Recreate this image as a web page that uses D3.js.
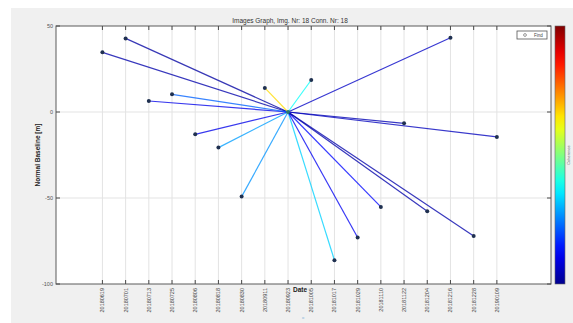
<!DOCTYPE html>
<html><head><meta charset="utf-8">
<script src="https://cdn.jsdelivr.net/npm/d3@7"></script>
<style>html,body{margin:0;padding:0;background:#fff;}svg{display:block;font-family:"Liberation Sans",Arial,sans-serif;}</style>
</head><body>
<svg id="c" width="573" height="323"></svg>
<script>
const masterDate = "20180923";
const masterBaseline = 0;
const slaveDates = ["20180619","20180701","20180713","20180725","20180806","20180818","20180830","20180911","20181005","20181017","20181029","20181110","20181122","20181204","20181216","20181228","20190109"];
const baselines = [34.7,42.8,6.4,10.3,-13,-20.7,-49.2,14,18.6,-86.2,-73,-55.2,-6.6,-57.7,43.2,-72.1,-14.5];
const coherence = [0.03,0.02,0.1,0.22,0.1,0.28,0.27,0.66,0.38,0.33,0.11,0.13,0.04,0.03,0.06,0.03,0.05];
const tickDates = ["20180619","20180701","20180713","20180725","20180806","20180818","20180830","20180911","20180923","20181005","20181017","20181029","20181110","20181122","20181204","20181216","20181228","20190109"];
const yTicks = [50,0,-50,-100];
const titleText = "Images Graph, Img. Nr: 18 Conn. Nr: 18";

const parse = d3.timeParse("%Y%m%d");
const svg = d3.select("#c");
const L=56,R=551,T=26,B=284;

svg.append("rect").attr("x",11).attr("y",8).attr("width",562).attr("height",315).attr("fill","#f0f0f0");
svg.append("rect").attr("x",L).attr("y",T).attr("width",R-L).attr("height",B-T).attr("fill","#fff");

const x = d3.scaleTime().domain([parse("20180526"),parse("20190206")]).range([L,R]);
const y = d3.scaleLinear().domain([-100,50]).range([B,T]);

const jet = d3.scaleLinear().domain([0,0.125,0.375,0.625,0.875,1])
  .range(["#00008f","#0000ff","#00ffff","#ffff00","#ff0000","#800000"]).interpolate(d3.interpolateRgb);

// grid
const g = svg.append("g");
g.selectAll("line.vg").data(tickDates).join("line")
  .attr("x1",d=>x(parse(d))).attr("x2",d=>x(parse(d))).attr("y1",T).attr("y2",B)
  .attr("stroke","#e3e3e3").attr("stroke-width",1);
g.selectAll("line.hg").data(yTicks.filter(v=>v>-100&&v<50)).join("line")
  .attr("x1",L).attr("x2",R).attr("y1",d=>y(d)).attr("y2",d=>y(d))
  .attr("stroke","#e3e3e3").attr("stroke-width",1);

// connections
const mx = x(parse(masterDate)), my = y(masterBaseline);
const data = slaveDates.map((d,i)=>({d, b:baselines[i], c:coherence[i]}));
svg.append("g").selectAll("line").data(data).join("line")
  .attr("x1",mx).attr("y1",my).attr("x2",d=>x(parse(d.d))).attr("y2",d=>y(d.b))
  .attr("stroke",d=>jet(d.c)).attr("stroke-width",1.2).attr("stroke-opacity",0.78);
svg.append("g").selectAll("circle").data(data).join("circle")
  .attr("cx",d=>x(parse(d.d))).attr("cy",d=>y(d.b)).attr("r",2)
  .attr("fill","#1f3050");
svg.append("circle").attr("cx",mx).attr("cy",my).attr("r",2).attr("fill","#2a7a70");

// axes box
svg.append("rect").attr("x",L).attr("y",T).attr("width",R-L).attr("height",B-T)
  .attr("fill","none").attr("stroke","#5a5a5a").attr("stroke-width",1);

// x ticks (top & bottom) and labels
const xa = svg.append("g");
xa.selectAll("line.bt").data(tickDates).join("line")
  .attr("x1",d=>x(parse(d))).attr("x2",d=>x(parse(d))).attr("y1",B).attr("y2",B-4)
  .attr("stroke","#4a4a4a");
xa.selectAll("line.tt").data(tickDates).join("line")
  .attr("x1",d=>x(parse(d))).attr("x2",d=>x(parse(d))).attr("y1",T).attr("y2",T+4)
  .attr("stroke","#4a4a4a");
xa.selectAll("text").data(tickDates).join("text")
  .attr("transform",d=>`translate(${x(parse(d))+2},${288}) rotate(-90)`)
  .attr("text-anchor","end").attr("font-size",5.5).attr("fill","#444").text(d=>d);

// y ticks
const ya = svg.append("g");
ya.selectAll("line.l").data(yTicks).join("line")
  .attr("x1",L).attr("x2",L+4).attr("y1",d=>y(d)).attr("y2",d=>y(d)).attr("stroke","#4a4a4a");
ya.selectAll("line.r").data(yTicks).join("line")
  .attr("x1",R).attr("x2",R-4).attr("y1",d=>y(d)).attr("y2",d=>y(d)).attr("stroke","#4a4a4a");
ya.selectAll("text").data(yTicks).join("text")
  .attr("x",L-3).attr("y",d=>y(d)+2).attr("text-anchor","end")
  .attr("font-size",5.5).attr("fill","#555").text(d=>d);

// labels
svg.append("text").attr("x",290).attr("y",23).attr("text-anchor","middle")
  .attr("font-size",6.5).attr("fill","#333").text(titleText);
svg.append("text").attr("x",300).attr("y",292).attr("text-anchor","middle")
  .attr("font-size",6.5).attr("font-weight","bold").attr("fill","#222").text("Date");
svg.append("text").attr("transform","translate(40,155) rotate(-90)").attr("text-anchor","middle")
  .attr("font-size",6.5).attr("font-weight","bold").attr("fill","#222").text("Normal Baseline [m]");
svg.append("text").attr("x",303).attr("y",319).attr("text-anchor","middle")
  .attr("font-size",4).attr("fill","#7ab0d8").text("o");

// legend
svg.append("rect").attr("x",517).attr("y",31).attr("width",30).attr("height",8)
  .attr("fill","#fff").attr("stroke","#555").attr("stroke-width",0.8);
svg.append("circle").attr("cx",525).attr("cy",35).attr("r",1.4).attr("fill","none").attr("stroke","#555").attr("stroke-width",0.6);
svg.append("text").attr("x",534).attr("y",37).attr("font-size",4.5).attr("fill","#444").text("Find");

// colorbar
const defs = svg.append("defs");
const grad = defs.append("linearGradient").attr("id","jet").attr("x1",0).attr("y1",1).attr("x2",0).attr("y2",0);
d3.range(0,1.0001,0.05).forEach(t=>grad.append("stop").attr("offset",t).attr("stop-color",jet(t)));
svg.append("rect").attr("x",555).attr("y",T).attr("width",10).attr("height",B-T)
  .attr("fill","url(#jet)").attr("stroke","#666").attr("stroke-width",0.6);
svg.append("text").attr("transform","translate(570,155) rotate(-90)").attr("text-anchor","middle")
  .attr("font-size",4).attr("fill","#666").text("Coherence");
</script>
</body></html>
